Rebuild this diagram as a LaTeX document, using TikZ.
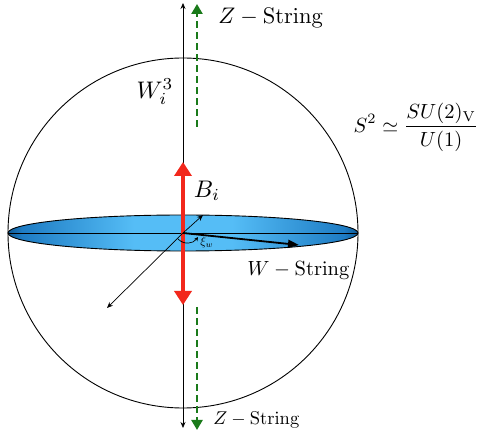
\documentclass[tikz,border=0pt]{standalone}
\usetikzlibrary{arrows.meta}
\definecolor{diskin}{HTML}{55BDF6}
\definecolor{diskmid}{HTML}{1E7CC4}
\definecolor{diskout}{HTML}{0E5A96}
\definecolor{redarr}{HTML}{F2281C}
\definecolor{greenarr}{HTML}{1A7A1A}
\pgfdeclarehorizontalshading{diskshade}{100bp}{color(0bp)=(diskout); color(25bp)=(diskout); color(27bp)=(diskmid); color(43bp)=(diskin); color(57bp)=(diskin); color(73bp)=(diskmid); color(75bp)=(diskout); color(100bp)=(diskout)}
\begin{document}
\begin{tikzpicture}[x=1pt,y=-1pt,
  thinarrow/.style={line width=0.7pt,-{Stealth[length=6pt,width=5pt]}},
  redarrow/.style={draw=redarr,line width=4.5pt,-{Triangle[length=14pt,width=17pt]}},
  greenarrow/.style={draw=greenarr,line width=2.8pt,dash pattern=on 7pt off 4pt,-{Triangle[length=10pt,width=11pt]}},
  lbl/.style={inner sep=0pt}
]
\useasboundingbox (0,0) rectangle (477,438);
\coordinate (O) at (183,233);
% sphere
\draw[line width=0.9pt] (O) circle [radius=175pt];
% disk
\shade[shading=diskshade] (O) ellipse [x radius=175pt,y radius=18pt];
\draw[line width=0.9pt] (O) ellipse [x radius=175pt,y radius=18pt];
\coordinate (DL) at (8,233);
\coordinate (DR) at (358,233);
\draw[line width=0.8pt] (DL) -- (DR);
% vertical axis
\coordinate (AT) at (183,3);
\coordinate (AB) at (183,428);
\draw[thinarrow] (O) -- (AT);
\draw[thinarrow] (O) -- (AB);
% green dashed
\coordinate (GT0) at (197,127);
\coordinate (GT) at (197,4);
\coordinate (GB0) at (197,307);
\coordinate (GB) at (197,430);
\draw[greenarrow] (GT0) -- (GT);
\draw[greenarrow] (GB0) -- (GB);
% red arrows
\coordinate (RT) at (183,162);
\coordinate (RB) at (183,305);
\draw[redarrow] (O) -- (RT);
\draw[redarrow] (O) -- (RB);
% other arrows
\coordinate (P1) at (203,215);
\coordinate (P2) at (107,308);
\coordinate (PW) at (299,245);
\draw[thinarrow] (O) -- (P1);
\draw[thinarrow] (O) -- (P2);
\draw[line width=1.8pt,-{Triangle[length=11pt,width=8pt]}] (O) -- (PW);
% xi arc
\coordinate (X0) at (178,239);
\coordinate (X1) at (198,237);
\draw[line width=0.7pt,-{Stealth[length=4pt,width=4pt]}] (X0) .. controls (184,245) and (193,244) .. (X1);
% labels
\node[lbl,anchor=west,scale=2.25] (zt) at (218,18) {$Z-\mathrm{String}$};
\node[lbl,anchor=west,scale=1.85] (zb) at (213,420) {$Z-\mathrm{String}$};
\node[lbl,anchor=west,scale=2.05] (ws) at (247,270) {$W-\mathrm{String}$};
\node[lbl,scale=2.4] (w3) at (155,92) {$W_i^3$};
\node[lbl,scale=2.4] (bi) at (207,191) {$B_i$};
\node[lbl,scale=1.2] (xi) at (207,243) {$\xi_w$};
\node[lbl,scale=2.05] (s2) at (416,127) {$\displaystyle S^2\simeq\frac{SU(2)_{\mathrm{V}}}{U(1)}$};
\end{tikzpicture}
\end{document}
